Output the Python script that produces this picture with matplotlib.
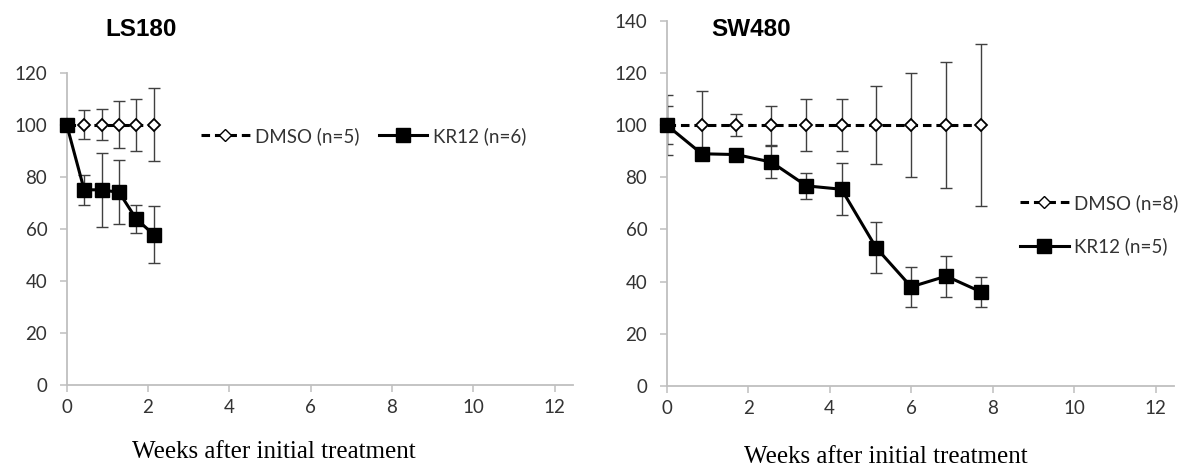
import matplotlib
matplotlib.use("Agg")
import matplotlib.pyplot as plt
from matplotlib.lines import Line2D

plt.rcParams['font.family'] = ['Lato', 'DejaVu Sans']

# ---- LS180 ----
ls_weeks = [0, 0.43, 0.86, 1.29, 1.71, 2.14]
ls_dmso = [100, 100, 100, 100, 100, 100]
ls_dmso_err = [0, 5.5, 6, 9, 10, 14]
ls_kr12 = [100, 75, 75, 74, 63.8, 57.8]
ls_kr12_err = [0, 5.7, 14.2, 12.3, 5.5, 11]

# ---- SW480 ----
sw_weeks = [0, 0.86, 1.71, 2.57, 3.43, 4.29, 5.14, 6.0, 6.86, 7.71]
sw_dmso = [100, 100, 100, 100, 100, 100, 100, 100, 100, 100]
sw_dmso_err = [11.6, 13, 4.3, 7.5, 10, 10, 15, 20, 24, 31]
sw_kr12 = [100, 89, 88.7, 85.8, 76.7, 75.4, 53, 38, 42.1, 36.1]
sw_kr12_err = [7.3, 2, 2, 6, 5, 10, 9.7, 7.7, 7.8, 5.7]

x_ticks = [0, 2, 4, 6, 8, 10, 12]
xlabel = "Weeks after initial treatment"

AX_GRAY = '#bfbfbf'
TXT = '#333333'
ERR = '#404040'
FS = 13.5

fig = plt.figure(figsize=(11.81, 4.72), dpi=100)
W, H = 1181, 472


def axes_px(x0, x1, ytop, ybot):
    return fig.add_axes([x0 / W, 1 - ybot / H, (x1 - x0) / W, (ybot - ytop) / H])


def style(ax, ymax):
    ax.set_xlim(0, 12.45)
    ax.set_ylim(0, ymax)
    ax.set_xticks(x_ticks)
    ax.set_yticks(range(0, ymax + 1, 20))
    for s in ('top', 'right'):
        ax.spines[s].set_visible(False)
    for s in ('left', 'bottom'):
        ax.spines[s].set_color(AX_GRAY)
        ax.spines[s].set_linewidth(1.3)
    ax.tick_params(axis='both', colors=AX_GRAY, labelcolor=TXT,
                   labelsize=FS, width=1.1, length=5, direction='out')
    ax.tick_params(axis='y', pad=9)
    ax.tick_params(axis='x', pad=5)


def draw(ax, x, dmso, dmso_err, kr, kr_err):
    ax.errorbar(x, dmso, yerr=dmso_err, fmt='none', ecolor=ERR,
                elinewidth=1.0, capsize=4.5, capthick=1.0, zorder=2)
    ax.errorbar(x, kr, yerr=kr_err, fmt='none', ecolor=ERR,
                elinewidth=1.0, capsize=4.5, capthick=1.0, zorder=2)
    ax.plot(x, dmso, color='black', lw=2.2, ls=(0, (2.8, 1.6)),
            marker='D', ms=6.5, mfc='white', mec='black', mew=1.3,
            zorder=3, clip_on=False)
    ax.plot(x, kr, color='black', lw=2.2, ls='-',
            marker='s', ms=9.8, mfc='black', mec='black',
            zorder=4, clip_on=False)


def handles(dmso_label, kr_label):
    h1 = Line2D([], [], color='black', lw=2.2, ls=(0, (2.8, 1.6)),
                marker='D', ms=6.5, mfc='white', mec='black', mew=1.0)
    h2 = Line2D([], [], color='black', lw=2.2, ls='-',
                marker='s', ms=9.8, mfc='black', mec='black')
    return [h1, h2], [dmso_label, kr_label]


# left panel
ax1 = axes_px(66.7, 573, 72.7, 385)
style(ax1, 120)
draw(ax1, ls_weeks, ls_dmso, ls_dmso_err, ls_kr12, ls_kr12_err)
h, l = handles("DMSO (n=5)", "KR12 (n=6)")
leg1 = ax1.legend(h, l, ncol=2, frameon=False, fontsize=FS,
                  loc='center left',
                  bbox_to_anchor=((201 - 66.7) / (573 - 66.7), (385 - 136) / (385 - 72.7)),
                  handlelength=2.6, handletextpad=0.3, columnspacing=1.0,
                  borderpad=0, borderaxespad=0)
for t in leg1.get_texts():
    t.set_color(TXT)

# right panel
ax2 = axes_px(666.7, 1174, 20.7, 386)
style(ax2, 140)
draw(ax2, sw_weeks, sw_dmso, sw_dmso_err, sw_kr12, sw_kr12_err)
h, l = handles("DMSO (n=8)", "KR12 (n=5)")
leg2 = ax2.legend(h, l, ncol=1, frameon=False, fontsize=FS,
                  loc='center left',
                  bbox_to_anchor=((1020 - 666.7) / (1174 - 666.7), (386 - 224.5) / (386 - 20.7)),
                  handlelength=2.6, handletextpad=0.3, labelspacing=1.35,
                  borderpad=0, borderaxespad=0)
for t in leg2.get_texts():
    t.set_color(TXT)

# panel titles
fig.text(141 / W, 1 - 29 / H, "LS180", ha='center', va='center',
         fontsize=17.5, fontweight='bold', family='Liberation Sans', color='black')
fig.text(751 / W, 1 - 30 / H, "SW480", ha='center', va='center',
         fontsize=17.5, fontweight='bold', family='Liberation Sans', color='black')

# axis captions
fig.text(274 / W, 1 - 452 / H, xlabel, ha='center', va='center',
         fontsize=18, family='Liberation Serif', color='black')
fig.text(886 / W, 1 - 457 / H, xlabel, ha='center', va='center',
         fontsize=18, family='Liberation Serif', color='black')

fig.savefig("out.png", dpi=100)
